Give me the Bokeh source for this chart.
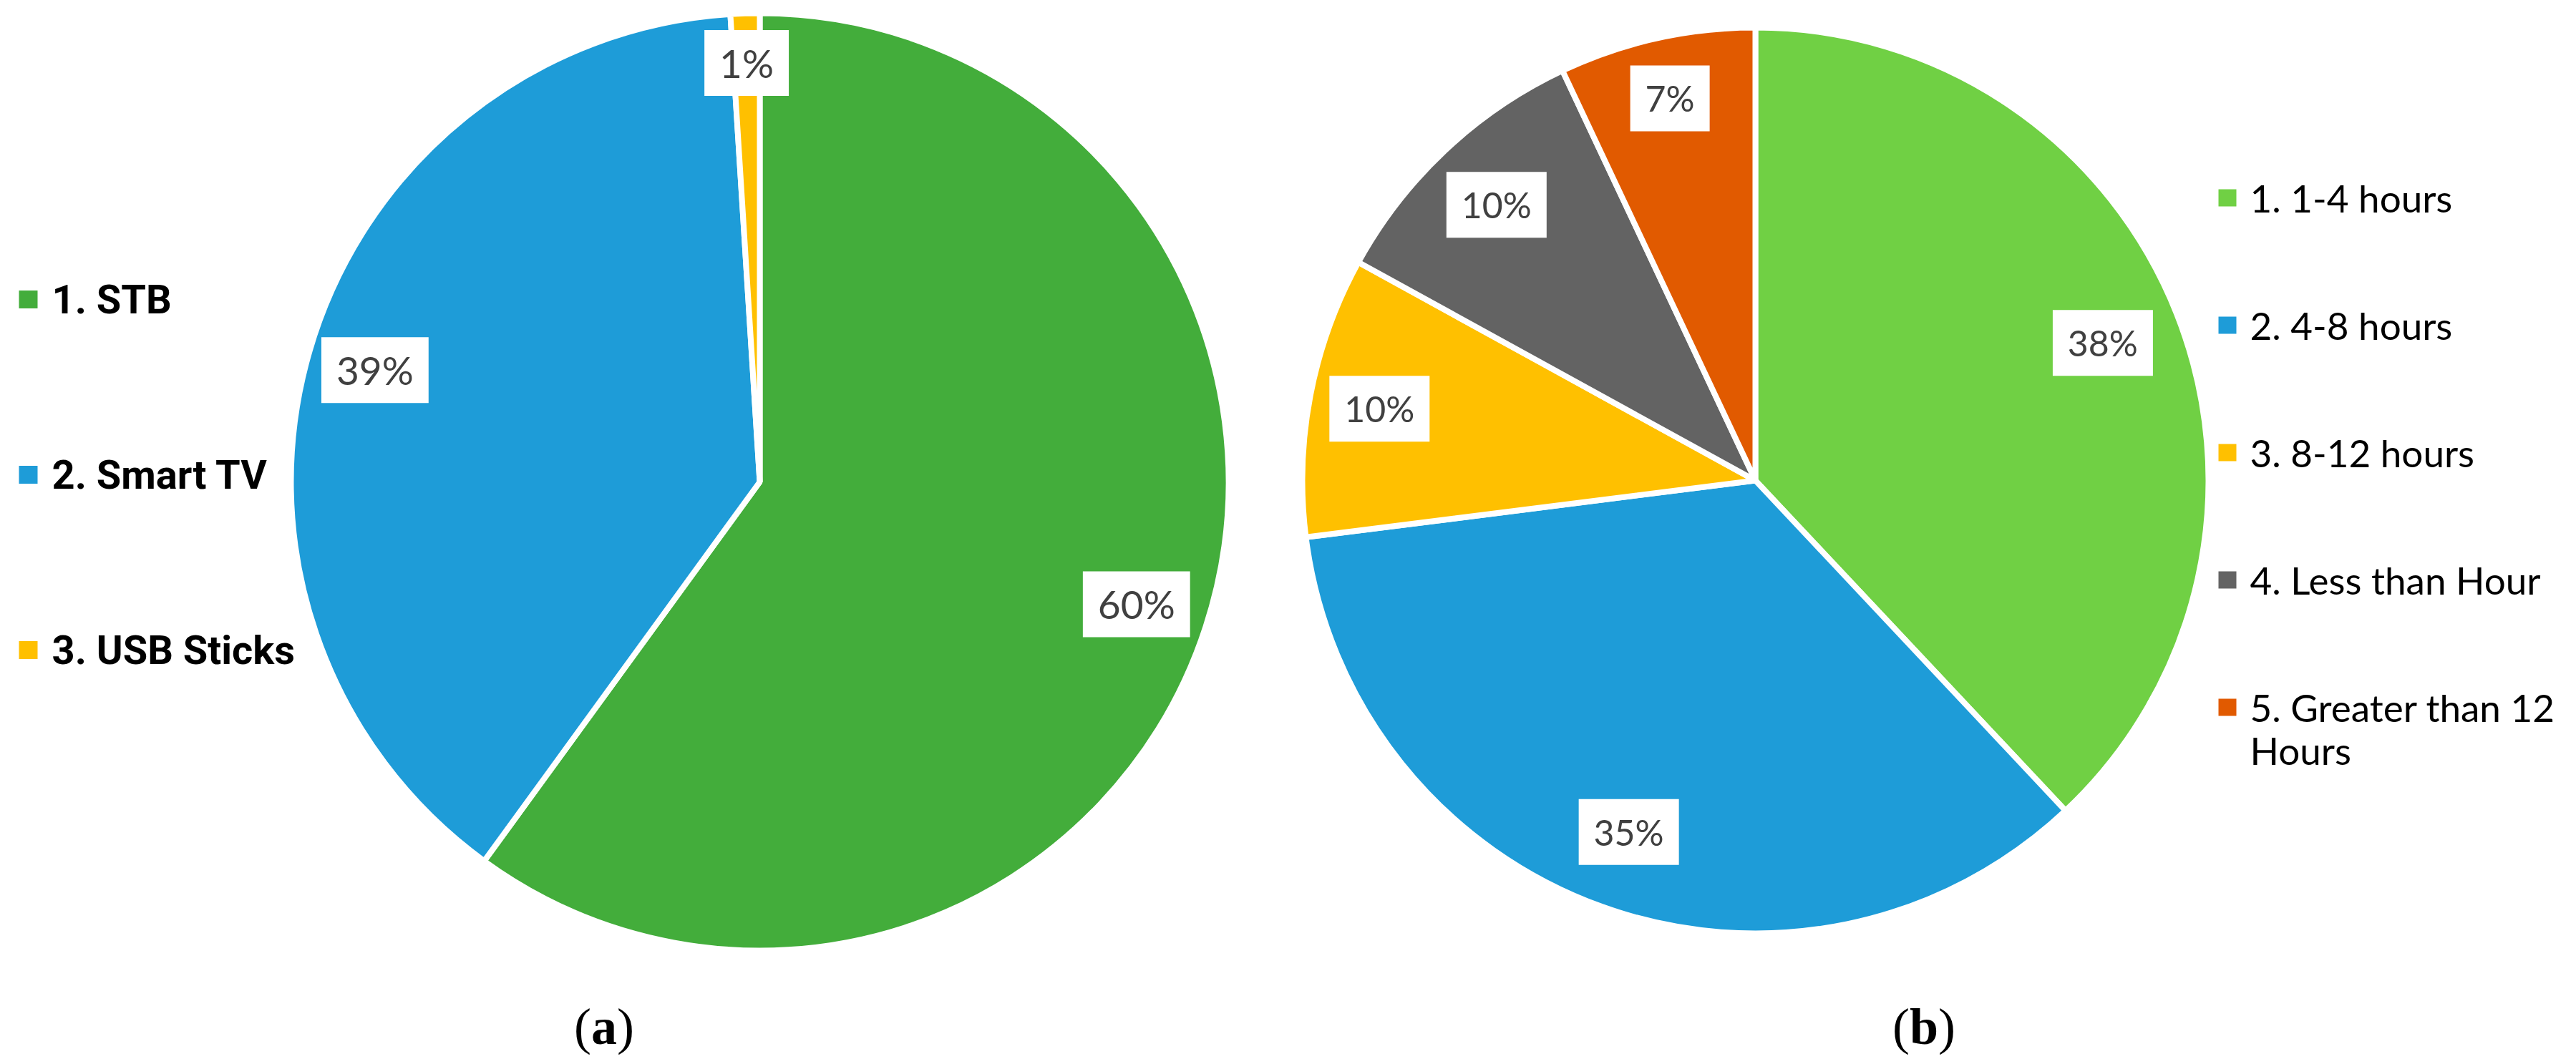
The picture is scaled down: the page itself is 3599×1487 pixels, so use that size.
import math
from bokeh.plotting import figure
from bokeh.models import Range1d
from bokeh.core.properties import value
from bokeh.embed import file_html
from bokeh.resources import INLINE

# ---------------- data ----------------
devices = ["1. STB", "2. Smart TV", "3. USB Sticks"]
device_pct = [60, 39, 1]
device_colors = ["#43AD3B", "#1E9CD8", "#FFC000"]

hours = ["1. 1-4 hours", "2. 4-8 hours", "3. 8-12 hours",
         "4. Less than Hour", "5. Greater than 12 Hours"]
hours_pct = [38, 35, 10, 10, 7]
hours_colors = ["#70D044", "#1E9CD8", "#FFC000", "#636363", "#E15A00"]

captions = ["a", "b"]

# label distance from centre (fraction of radius), layout only
device_label_frac = [0.85, 0.86, 0.90]
hours_label_frac = [0.83, 0.83, 0.85, 0.84, 0.87]

# ---------------- canvas (data units == page pixels) ----------------
PAGE_W, PAGE_H = 3599, 1487
p = figure(width=PAGE_W, height=PAGE_H, x_range=Range1d(0, PAGE_W), y_range=Range1d(0, PAGE_H),
           output_backend="svg", toolbar_location=None, min_border=0, title=None,
           x_axis_location=None, y_axis_location=None)
p.grid.visible = False
p.outline_line_color = None
p.background_fill_color = "white"
p.border_fill_color = "white"


def Y(v):
    return PAGE_H - v


def pie(cx, cy, r_vis, pcts, colors, lw, fracs, fs, pad):
    total = float(sum(pcts))
    starts, ends, mids = [], [], []
    cum = 0.0
    for v in pcts:
        a0 = math.pi / 2 - 2 * math.pi * cum / total
        cum += v
        a1 = math.pi / 2 - 2 * math.pi * cum / total
        starts.append(a0)
        ends.append(a1)
        mids.append((a0 + a1) / 2)
    p.wedge(x=cx, y=Y(cy), radius=r_vis + lw / 2, start_angle=starts, end_angle=ends,
            direction="clock", fill_color=colors, line_color="white", line_width=lw)
    lx = [cx + f * r_vis * math.cos(m) for m, f in zip(mids, fracs)]
    ly = [Y(cy) + f * r_vis * math.sin(m) for m, f in zip(mids, fracs)]
    labels = ["%d%%" % v for v in pcts]
    widths = [2 * pad + (0.58 * (len(t) - 1) + 0.8) * fs for t in labels]
    p.rect(x=lx, y=ly, width=widths, height=92, fill_color="white", line_color=None)
    p.text(x=lx, y=ly, text=labels, text_align="center", text_baseline="middle",
           text_font=value("Lato"), text_font_size="%dpx" % fs, text_color="#404040")


def legend(names, colors, mx, mw, mh, tx, row0, step, font, fs, style, wrap=None, line_h=0):
    rows = [row0 + i * step for i in range(len(names))]
    p.rect(x=mx, y=[Y(r) for r in rows], width=mw, height=mh, fill_color=colors, line_color=None)
    first, second, second_y = [], [], []
    for n, r in zip(names, rows):
        if wrap and len(n) > wrap:
            words = n.split(" ")
            line = ""
            while words and len((line + " " + words[0]).strip()) <= wrap:
                line = (line + " " + words.pop(0)).strip()
            first.append(line)
            second.append(" ".join(words))
            second_y.append(Y(r + line_h))
        else:
            first.append(n)
    p.text(x=tx, y=[Y(r) for r in rows], text=first, text_align="left",
           text_baseline="middle", text_font=value(font), text_font_size="%dpx" % fs,
           text_font_style=style, text_color="black")
    if second:
        p.text(x=tx, y=second_y, text=second, text_align="left", text_baseline="middle",
               text_font=value(font), text_font_size="%dpx" % fs, text_font_style=style,
               text_color="black")


# (a) devices
pie(1061, 673, 651, device_pct, device_colors, 8, device_label_frac, 55, 21)
legend(devices, device_colors, 39, 26, 25, 72, 418, 245, "Roboto", 56, "bold")

# (b) hours
pie(2452, 671, 629, hours_pct, hours_colors, 8, hours_label_frac, 50, 21)
legend(hours, hours_colors, 3111.5, 25, 24, 3143, 276, 178, "Lato", 53, "normal",
       wrap=18, line_h=60)

# captions
for letter, cxc in zip(captions, [843.5, 2687.5]):
    fs = 72
    lw_letter = (0.5 if letter == "a" else 0.556) * fs
    par = 0.333 * fs
    x0 = cxc - (2 * par + lw_letter) / 2
    mid = Y(1434)
    p.text(x=[x0], y=[mid], text=["("], text_align="left", text_baseline="middle",
           text_font=value("Liberation Serif"), text_font_size="%dpx" % fs, text_color="black")
    p.text(x=[x0 + par], y=[mid], text=[letter], text_align="left", text_baseline="middle",
           text_font=value("Liberation Serif"), text_font_size="%dpx" % fs,
           text_font_style="bold", text_color="black")
    p.text(x=[x0 + par + lw_letter], y=[mid], text=[")"], text_align="left",
           text_baseline="middle", text_font=value("Liberation Serif"),
           text_font_size="%dpx" % fs, text_color="black")

open("out.html", "w").write(file_html(p, INLINE))
